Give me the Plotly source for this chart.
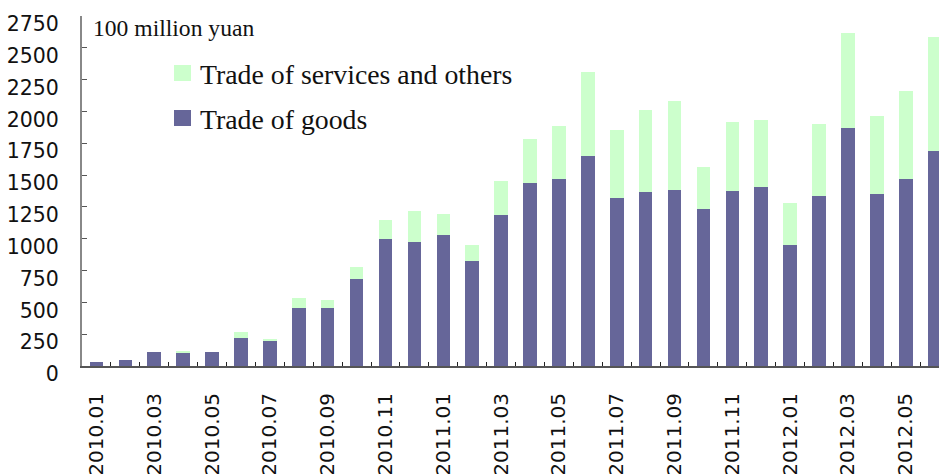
import plotly.graph_objects as go

months = [
    "2010.01", "2010.02", "2010.03", "2010.04", "2010.05", "2010.06",
    "2010.07", "2010.08", "2010.09", "2010.10", "2010.11", "2010.12",
    "2011.01", "2011.02", "2011.03", "2011.04", "2011.05", "2011.06",
    "2011.07", "2011.08", "2011.09", "2011.10", "2011.11", "2011.12",
    "2012.01", "2012.02", "2012.03", "2012.04", "2012.05", "2012.06",
]
goods = [31, 47, 110, 100, 110, 218, 194, 454, 454, 682, 997, 973,
         1028, 822, 1185, 1436, 1468, 1651, 1318, 1366, 1381, 1232, 1373, 1405,
         948, 1334, 1869, 1350, 1468, 1688]
services = [0, 0, 0, 16, 0, 47, 16, 78, 63, 94, 148, 243,
            165, 126, 267, 346, 417, 658, 535, 644, 700, 330, 543, 527,
            331, 566, 746, 613, 691, 896]
tick_labels = [m if i % 2 == 0 else "" for i, m in enumerate(months)]
y_ticks = list(range(0, 2751, 250))

GOODS_COLOR = "#666699"
SERV_COLOR = "#CCFFCC"

fig = go.Figure()
fig.add_trace(go.Bar(x=months, y=goods, name="Trade of goods",
                     marker=dict(color=GOODS_COLOR, line=dict(width=0)), width=0.47))
fig.add_trace(go.Bar(x=months, y=services, name="Trade of services and others",
                     marker=dict(color=SERV_COLOR, line=dict(width=0)), width=0.47))

W, H = 939, 474
L, R, T, B = 82, 0, 16, 108
pw, ph = W - L - R, H - T - B

def px(xp):
    return (xp - L) / pw

def py(yp):
    return (H - B - yp) / ph

fig.update_layout(
    width=W, height=H,
    margin=dict(l=L, r=R, t=T, b=B, pad=0),
    barmode="stack",
    showlegend=False,
    plot_bgcolor="white", paper_bgcolor="white",
    xaxis=dict(
        type="category", range=[-0.5, 29.15], automargin=False,
        tickmode="array", tickvals=months, ticktext=tick_labels,
        tickson="boundaries", ticks="inside", ticklen=4, tickwidth=1, tickcolor="#222",
        tickangle=-90, ticklabelstandoff=17,
        tickfont=dict(family="DejaVu Sans", size=20, color="#111"),
        showline=True, linecolor="#555", linewidth=2,
        showgrid=False, zeroline=False, fixedrange=True,
    ),
    yaxis=dict(
        range=[0, 2750], tickmode="array", tickvals=y_ticks, automargin=False,
        ticks="inside", ticklen=5, tickwidth=1, tickcolor="#555",
        ticklabelshift=8, ticklabelstandoff=17,
        tickfont=dict(family="DejaVu Sans", size=20.5, color="#111"),
        showline=True, linecolor="#888", linewidth=2,
        showgrid=False, zeroline=False, fixedrange=True,
    ),
)

# unit label
fig.add_annotation(xref="paper", yref="paper", x=px(91), y=py(28.5),
                   xanchor="left", yanchor="middle", showarrow=False,
                   text="100 million yuan",
                   font=dict(family="Liberation Serif", size=23.6, color="#111"))

# legend drawn manually
legend_items = [("Trade of services and others", SERV_COLOR, 65, 81, 74.5),
                ("Trade of goods", GOODS_COLOR, 110, 126, 119.5)]
for label, color, top, bottom, mid in legend_items:
    fig.add_shape(type="rect", xref="paper", yref="paper",
                  x0=px(174), x1=px(191), y0=py(bottom), y1=py(top),
                  fillcolor=color, line=dict(width=0))
    fig.add_annotation(xref="paper", yref="paper", x=px(198), y=py(mid),
                       xanchor="left", yanchor="middle", showarrow=False,
                       text=label,
                       font=dict(family="Liberation Serif", size=27.8, color="#111"))

fig.write_html("out.html")
